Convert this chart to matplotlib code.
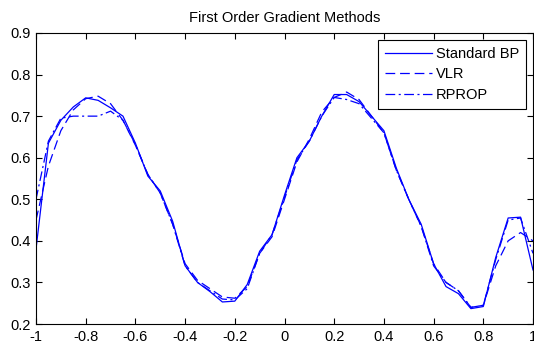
import matplotlib
matplotlib.use("Agg")
import matplotlib.pyplot as plt

plt.rcParams['font.family'] = ['Liberation Sans', 'DejaVu Sans']
plt.rcParams['lines.scale_dashes'] = False

x = [-1.00, -0.95, -0.90, -0.85, -0.80, -0.75, -0.70, -0.65, -0.60, -0.55,
     -0.50, -0.45, -0.40, -0.35, -0.30, -0.25, -0.20, -0.15, -0.10, -0.05,
     0.00, 0.05, 0.10, 0.15, 0.20, 0.25, 0.30, 0.35, 0.40, 0.45,
     0.50, 0.55, 0.60, 0.65, 0.70, 0.75, 0.80, 0.85, 0.90, 0.95, 1.00]

standard_bp = [0.38, 0.635, 0.69, 0.722, 0.744, 0.738, 0.72, 0.70, 0.635, 0.556,
               0.52, 0.447, 0.34, 0.30, 0.278, 0.253, 0.255, 0.295, 0.375, 0.415,
               0.51, 0.60, 0.64, 0.70, 0.752, 0.752, 0.735, 0.70, 0.665, 0.575,
               0.50, 0.44, 0.345, 0.29, 0.273, 0.237, 0.242, 0.36, 0.455, 0.457, 0.33]

vlr = [0.45, 0.58, 0.665, 0.715, 0.742, 0.748, 0.73, 0.69, 0.63, 0.56,
       0.515, 0.44, 0.345, 0.305, 0.285, 0.265, 0.262, 0.29, 0.37, 0.41,
       0.50, 0.59, 0.645, 0.71, 0.745, 0.758, 0.74, 0.70, 0.66, 0.57,
       0.50, 0.435, 0.345, 0.30, 0.28, 0.24, 0.245, 0.34, 0.40, 0.42, 0.40]

rprop = [0.50, 0.64, 0.695, 0.70, 0.70, 0.70, 0.712, 0.69, 0.632, 0.56,
         0.515, 0.44, 0.34, 0.30, 0.28, 0.26, 0.258, 0.285, 0.37, 0.415,
         0.505, 0.595, 0.64, 0.70, 0.745, 0.74, 0.73, 0.695, 0.66, 0.57,
         0.50, 0.435, 0.34, 0.30, 0.28, 0.24, 0.245, 0.355, 0.45, 0.455, 0.37]

labels = ["Standard BP", "VLR", "RPROP"]
xticks = [-1, -0.8, -0.6, -0.4, -0.2, 0, 0.2, 0.4, 0.6, 0.8, 1]
xticklabels = ["-1", "-0.8", "-0.6", "-0.4", "-0.2", "0", "0.2", "0.4", "0.6", "0.8", "1"]
yticks = [0.2, 0.3, 0.4, 0.5, 0.6, 0.7, 0.8, 0.9]
yticklabels = ["0.2", "0.3", "0.4", "0.5", "0.6", "0.7", "0.8", "0.9"]

fig = plt.figure(figsize=(5.34, 3.48), dpi=100)
ax = fig.add_axes([36 / 534, 1 - 324 / 348, 497 / 534, 291 / 348])

blue = "#0000ff"
ax.plot(x, standard_bp, color=blue, lw=0.9, linestyle="-", label=labels[0])
ax.plot(x, vlr, color=blue, lw=0.9, linestyle=(0, (7, 3.5)), label=labels[1])
ax.plot(x, rprop, color=blue, lw=0.9, linestyle=(0, (7, 2.5, 1.5, 2.5)), label=labels[2])

ax.set_xlim(-1, 1)
ax.set_ylim(0.2, 0.9)
ax.set_xticks(xticks)
ax.set_xticklabels(xticklabels)
ax.set_yticks(yticks)
ax.set_yticklabels(yticklabels)
ax.tick_params(direction="in", length=4, width=0.8, top=True, right=True,
               labelsize=10.5, pad=4)
for s in ax.spines.values():
    s.set_linewidth(0.8)

ax.set_title("First Order Gradient Methods", fontsize=10.5, pad=8)

leg = ax.legend(loc="upper right", fontsize=10.5, frameon=True, fancybox=False,
                handlelength=3.2, handletextpad=0.3, labelspacing=0.45,
                borderpad=0.45, borderaxespad=0.5)
leg.get_frame().set_edgecolor("black")
leg.get_frame().set_linewidth(0.8)
leg.get_frame().set_alpha(1)

fig.savefig("out.png", dpi=100)
